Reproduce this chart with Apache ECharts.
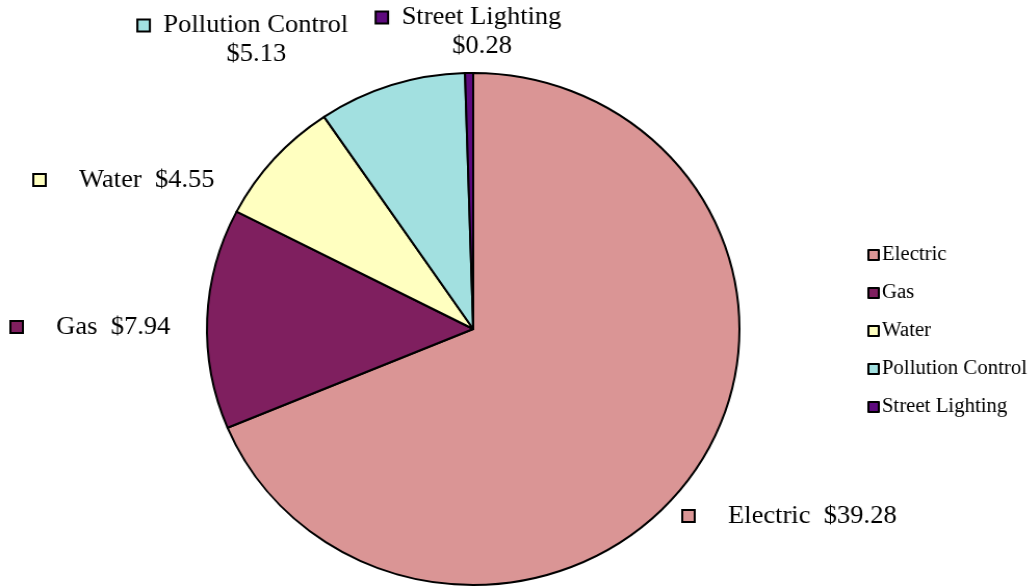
<!DOCTYPE html>
<html>
<head>
<meta charset="utf-8">
<script src="https://cdn.jsdelivr.net/npm/echarts@6/dist/echarts.min.js"></script>
<style>
html, body { margin: 0; padding: 0; background: #fff; overflow: hidden; }
/* the original is a little wider than tall, so stretch the whole chart */
#chart { width: 994px; height: 586px; transform: scaleX(1.04); transform-origin: 0 0; }
</style>
</head>
<body>
<div id="chart"></div>
<script>
var categories = ["Electric", "Gas", "Water", "Pollution Control", "Street Lighting"];
var values = [39.28, 7.94, 4.55, 5.13, 0.28];
var valueLabels = ["$39.28", "$7.94", "$4.55", "$5.13", "$0.28"];
var colors = ["#DA9595", "#7F1F5F", "#FFFFC0", "#A2E0E0", "#5E0A7E"];

// label placement: [x, y, align, twoLines]
var labelPos = [
    [657, 516, 'left', false],
    [11, 327, 'left', false],
    [33, 180, 'left', false],
    [234, 40, 'center', true],
    [451, 32, 'center', true]
];

var fontFam = 'Liberation Serif';

var rich = {
    g: { width: 14, height: 12 },
    s: { width: 33, height: 12 },
    p: { width: 25, height: 12, lineHeight: 29 }
};
for (var i = 0; i < colors.length; i++) {
    rich['m' + i] = {
        width: 10,
        height: 10,
        backgroundColor: colors[i],
        borderColor: '#000',
        borderWidth: 2
    };
}

var pieData = [];
for (var i = 0; i < categories.length; i++) {
    pieData.push({
        name: categories[i],
        value: values[i],
        itemStyle: { color: colors[i] }
    });
}

var myChart = echarts.init(document.getElementById('chart'));
myChart.setOption({
    animation: false,
    backgroundColor: '#fff',
    textStyle: { fontFamily: fontFam },
    legend: {
        orient: 'vertical',
        left: 829,
        top: 240,
        itemWidth: 10,
        itemHeight: 10,
        itemGap: 18,
        icon: 'rect',
        itemStyle: { borderColor: '#000', borderWidth: 2 },
        textStyle: {
            fontFamily: fontFam,
            fontSize: 20,
            lineHeight: 20,
            color: '#000',
            padding: [0, 0, 0, -2]
        },
        data: categories
    },
    series: [{
        type: 'pie',
        center: [455, 329],
        radius: 256,
        startAngle: 90,
        clockwise: true,
        avoidLabelOverlap: false,
        emphasis: { disabled: true },
        itemStyle: { borderColor: '#000', borderWidth: 2 },
        label: {
            show: true,
            position: 'outside',
            fontFamily: fontFam,
            fontSize: 25.5,
            lineHeight: 29,
            color: '#000',
            rich: rich,
            formatter: function(p) {
                var i = p.dataIndex;
                if (labelPos[i][3]) {
                    return '{m' + i + '|}{g|}' + categories[i] + '\n{p|}' + valueLabels[i];
                }
                return '{m' + i + '|}{s|}' + categories[i] + '  ' + valueLabels[i];
            }
        },
        labelLine: { show: false },
        labelLayout: function(p) {
            var l = labelPos[p.dataIndex];
            return { x: l[0], y: l[1], align: l[2], verticalAlign: 'middle' };
        },
        data: pieData
    }]
});
</script>
</body>
</html>
